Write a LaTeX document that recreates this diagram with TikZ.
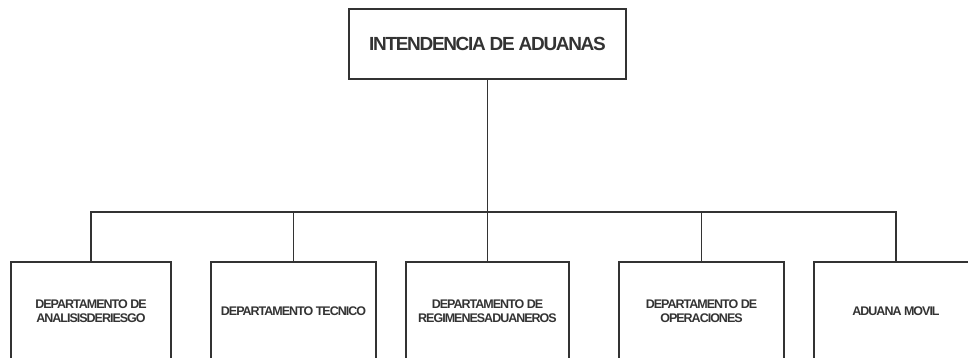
\documentclass[tikz,border=0pt]{standalone}
\usepackage{fontspec}
\newfontfamily\topfont[LetterSpace=-7,BoldFont={Liberation Sans Bold}]{Liberation Sans}
\newfontfamily\unitfont[LetterSpace=-8,BoldFont={Liberation Sans Bold}]{Liberation Sans}
\definecolor{ink}{HTML}{333333}
\tikzset{
  topbox/.style={draw=ink, line width=1.2pt, rectangle, minimum width=277pt, minimum height=70pt, inner sep=0pt,
    text=ink, font=\topfont\bfseries\fontsize{19}{22}\selectfont},
  unitbox/.style={draw=ink, line width=1.2pt, rectangle, minimum height=98pt, inner sep=0pt, align=center,
    text=ink, font=\unitfont\bfseries\fontsize{12.5}{14}\selectfont},
  link/.style={draw=ink, line width=1.2pt}
}
\begin{document}
\begin{tikzpicture}[x=1pt,y=-1pt]
\useasboundingbox (0,0) rectangle (968,358);
\clip (0,0) rectangle (968,358);
\node[topbox] (top) at (487.5,44) {INTENDENCIA DE ADUANAS};
\coordinate (bus) at (487.5,212);
\node[unitbox, minimum width=160pt] (b1) at (91,311) {DEPARTAMENTO DE\\ANALISISDERIESGO};
\node[unitbox, minimum width=165pt] (b2) at (293.5,311) {DEPARTAMENTO TECNICO};
\node[unitbox, minimum width=163pt] (b3) at (487.5,311) {DEPARTAMENTO DE\\REGIMENESADUANEROS};
\node[unitbox, minimum width=165pt] (b4) at (701.5,311) {DEPARTAMENTO DE\\OPERACIONES};
\node[unitbox, minimum width=164pt] (b5) at (896,311) {ADUANA MOVIL};
\draw[link] (top.south) -- (bus);
\draw[link] (b1.north) |- (bus);
\draw[link] (b2.north) |- (bus);
\draw[link] (b3.north) -- (bus);
\draw[link] (b4.north) |- (bus);
\draw[link] (b5.north) |- (bus);
\end{tikzpicture}
\end{document}
